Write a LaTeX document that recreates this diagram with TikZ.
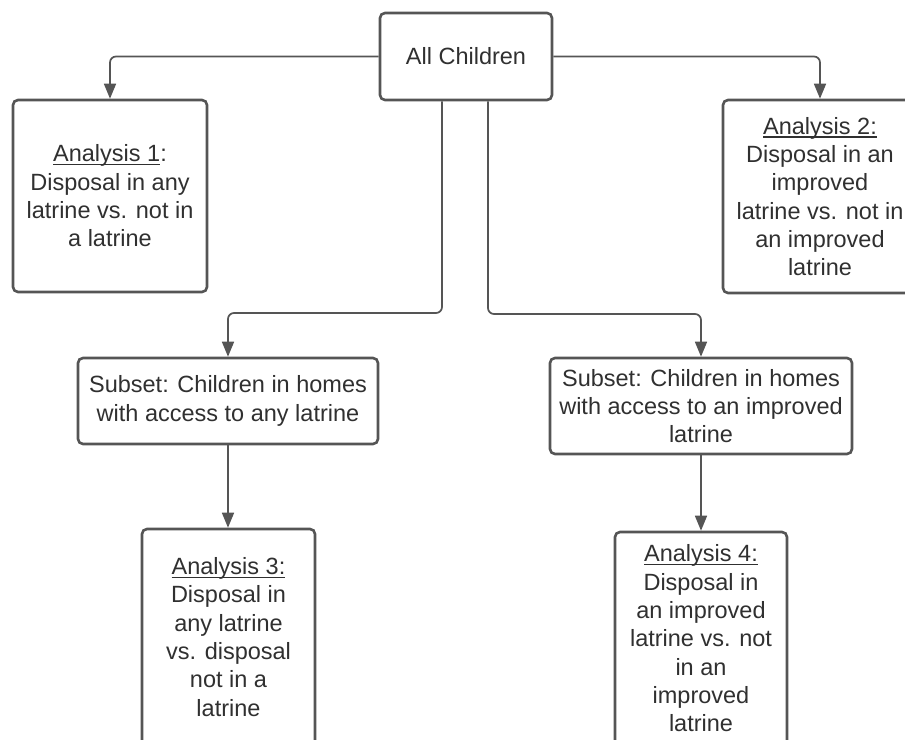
\documentclass[tikz,border=0pt]{standalone}
\usepackage{fontspec}
\setmainfont{Liberation Sans}
\usetikzlibrary{arrows.meta}
\definecolor{edgegray}{HTML}{555555}
\definecolor{textgray}{HTML}{303030}
\newcommand{\ulined}[1]{\setbox0\hbox{#1}\rlap{\rule[-3.5pt]{\wd0}{1.3pt}}\box0}
\tikzset{
  box/.style={draw=edgegray, line width=2.6pt, rounded corners=5pt, fill=white,
    text=textgray, align=center, inner sep=2pt,
    font=\fontsize{23.5}{28.3}\selectfont},
  link/.style={draw=edgegray, line width=1.7pt, rounded corners=6pt,
    -{Triangle[length=15pt,width=12pt]}}
}
\begin{document}
\begin{tikzpicture}[x=1pt,y=1pt]
    \path[use as bounding box, clip] (0,0) rectangle (905,739);

    % Boxes
    \node[box, minimum width=172pt, minimum height=87pt] (all) at (466,682.5) {All Children};
    \node[box, minimum width=194pt, minimum height=192pt] (an1) at (110,543)
        {\ulined{Analysis 1}:\\ Disposal in any\\ latrine vs. not in\\ a latrine};
    \node[box, minimum width=194pt, minimum height=193pt] (an2) at (820,542.5)
        {\ulined{Analysis 2:}\\ Disposal in an\\ improved\\ latrine vs. not in\\ an improved\\ latrine};
    \node[box, minimum width=300pt, minimum height=86pt] (sub1) at (228,338)
        {Subset: Children in homes\\ with access to any latrine};
    \node[box, minimum width=302pt, minimum height=96pt] (sub2) at (701,333)
        {Subset: Children in homes\\ with access to an improved\\ latrine};
    \node[box, minimum width=173pt, minimum height=216pt] (an3) at (228.5,102)
        {\ulined{Analysis 3:}\\ Disposal in\\ any latrine\\ vs. disposal\\ not in a\\ latrine};
    \node[box, minimum width=172pt, minimum height=213pt] (an4) at (701,100.5)
        {\ulined{Analysis 4:}\\ Disposal in\\ an improved\\ latrine vs. not\\ in an\\ improved\\ latrine};

    % Connectors
    \coordinate (bendL) at (442,426);
    \coordinate (bendR) at (488,425);
    \draw[link] (all.west) -| (an1.north);
    \draw[link] (all.east) -| (an2.north);
    \draw[link] (all.south -| bendL) -- (bendL) -| (sub1.north);
    \draw[link] (all.south -| bendR) -- (bendR) -| (sub2.north);
    \draw[link] (sub1.south) -- (sub1.south |- an3.north);
    \draw[link] (sub2.south) -- (an4.north);
\end{tikzpicture}
\end{document}
